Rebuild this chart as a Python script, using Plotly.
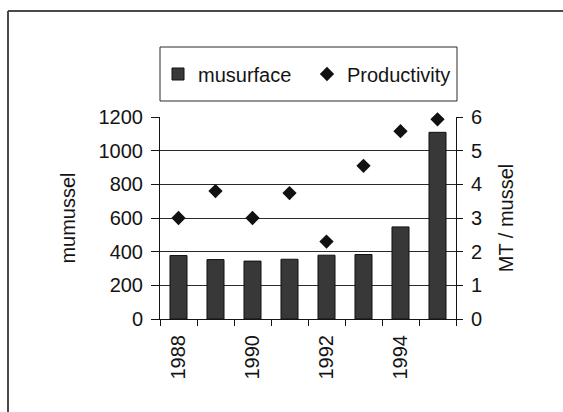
import plotly.graph_objects as go

# ---- data -------------------------------------------------------------
years = [1988, 1989, 1990, 1991, 1992, 1993, 1994, 1995]
musurface = [377, 353, 344, 355, 379, 383, 547, 1109]
productivity = [3.0, 3.8, 3.0, 3.74, 2.3, 4.55, 5.58, 5.93]
year_ticks = [1988, 1990, 1992, 1994]
year_labels = ["1988", "1990", "1992", "1994"]
left_ticks = [0, 200, 400, 600, 800, 1000, 1200]
right_ticks = [0, 1, 2, 3, 4, 5, 6]

# ---- page geometry (pixels) -------------------------------------------
W, H = 563, 412
L, R, T, B = 160, 456, 117, 319   # plot area edges


def px(x):
    return (x - L) / (R - L)


def py(y):
    return (B - y) / (B - T)


INK = "#141414"
FONT = dict(family="Liberation Sans, Arial, sans-serif", size=20, color=INK)

fig = go.Figure()
fig.add_trace(go.Bar(
    x=years, y=musurface, name="musurface",
    marker=dict(color="#383838", line=dict(color="#111111", width=1)),
    yaxis="y",
))
fig.add_trace(go.Scatter(
    x=years, y=productivity, name="Productivity", mode="markers",
    marker=dict(symbol="diamond", size=11, color="#111111"),
    cliponaxis=False,
    yaxis="y2",
))

fig.update_layout(
    width=W, height=H,
    margin=dict(l=L, r=W - R, t=T, b=H - B, pad=0),
    paper_bgcolor="white", plot_bgcolor="white",
    font=FONT,
    bargap=0.54,
    showlegend=True,
    legend=dict(
        orientation="h", x=px(158), xanchor="left", y=py(74), yanchor="middle",
        bgcolor="rgba(0,0,0,0)", borderwidth=0,
        entrywidth=104, entrywidthmode="pixels",
        font=FONT, itemsizing="trace",
    ),
    xaxis=dict(
        range=[1987.5, 1995.5], tickmode="array", tickvals=year_ticks,
        ticktext=year_labels, tickangle=-90, ticks="", showgrid=False,
        showline=True, linecolor=INK, linewidth=1, zeroline=False,
        ticklabelstandoff=7,
        minor=dict(tickmode="linear", tick0=1987.5, dtick=1, ticks="outside",
                   ticklen=6, tickcolor=INK, tickwidth=1, showgrid=False),
    ),
    yaxis=dict(
        range=[0, 1200], tickmode="array", tickvals=left_ticks,
        ticks="outside", ticklen=8, tickcolor=INK, tickwidth=1,
        showgrid=True, gridcolor="#2a2a2a", gridwidth=1,
        showline=True, linecolor=INK, linewidth=1, zeroline=False,
        ticklabelstandoff=4,
        title=dict(text="mumussel", standoff=17, font=FONT),
    ),
    yaxis2=dict(
        range=[0, 6], tickmode="array", tickvals=right_ticks,
        overlaying="y", side="right",
        ticks="outside", ticklen=6, tickcolor=INK, tickwidth=1,
        showgrid=False, showline=True, linecolor=INK, linewidth=1,
        zeroline=False, ticklabelstandoff=4,
        title=dict(text="MT / mussel", standoff=17, font=FONT),
    ),
)

# legend frame
fig.add_shape(type="rect", xref="paper", yref="paper",
              x0=px(160), x1=px(457), y0=py(101), y1=py(47),
              line=dict(color="#2a2a2a", width=1), fillcolor="rgba(0,0,0,0)")
# outer chart frame (top and left edges)
fig.add_shape(type="line", xref="paper", yref="paper",
              x0=px(8), x1=px(W + 5), y0=py(11), y1=py(11),
              line=dict(color="#4a4a4a", width=2))
fig.add_shape(type="line", xref="paper", yref="paper",
              x0=px(8), x1=px(8), y0=py(11), y1=py(H + 5),
              line=dict(color="#4a4a4a", width=2))

fig.write_html("out.html")
